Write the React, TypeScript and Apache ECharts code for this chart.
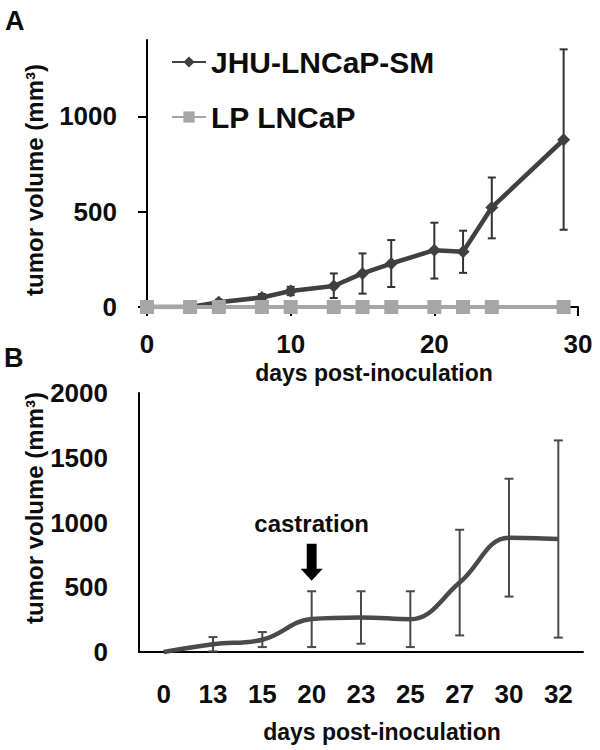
import React, { useEffect, useRef } from "react";
import * as echarts from "echarts";

// Panel A data
const daysA = [0, 3, 5, 8, 10, 13, 15, 17, 20, 22, 24, 29];
const jhuMean = [0, 0, 25, 50, 84, 110, 176, 228, 298, 290, 522, 877];
const jhuLow = [0, 0, 12, 32, 62, 47, 70, 105, 149, 179, 360, 405];
const jhuHigh = [0, 0, 38, 68, 106, 176, 281, 351, 442, 400, 679, 1351];
const lpMean = [0, 0, 0, 0, 0, 0, 0, 0, 0, 0, 0, 0];
const seriesNamesA = ["JHU-LNCaP-SM", "LP LNCaP"];
const yTicksA = [0, 500, 1000];

// Panel B data
const daysB = ["0", "13", "15", "20", "23", "25", "27", "30", "32"];
const meanB = [0, 60, 95, 255, 267, 253, 536, 883, 872];
const lowB = [0, 5, 38, 38, 64, 38, 128, 428, 111];
const highB = [0, 115, 154, 469, 469, 469, 944, 1338, 1634];
const castrationDay = "20";
const castrationLabelValue = 990;
const castrationArrowValue = 694;

const FONT = "'Liberation Sans', Arial, sans-serif";
const TXT = "#0d0d0d";

function errRender(capHalf: number, color: string, width: number) {
  return (params: any, api: any) => {
    const x = api.value(0);
    const lo = api.value(1);
    const hi = api.value(2);
    if (!(hi > lo)) return null;
    const a = api.coord([x, lo]);
    const b = api.coord([x, hi]);
    const st = { stroke: color, lineWidth: width };
    return {
      type: "group",
      children: [
        { type: "line", shape: { x1: a[0], y1: a[1], x2: b[0], y2: b[1] }, style: st },
        { type: "line", shape: { x1: a[0] - capHalf, y1: a[1], x2: a[0] + capHalf, y2: a[1] }, style: st },
        { type: "line", shape: { x1: b[0] - capHalf, y1: b[1], x2: b[0] + capHalf, y2: b[1] }, style: st },
      ],
    };
  };
}

export default function App() {
  const ref = useRef<HTMLDivElement>(null);
  useEffect(() => {
    if (!ref.current) return;
    const chart = echarts.init(ref.current, null, { renderer: "svg" });
    const plain = (v: any) => String(v);
    const axisLabelStyle = {
      fontFamily: FONT,
      fontWeight: "bold",
      fontSize: 26,
      lineHeight: 22,
      color: TXT,
      formatter: plain,
    };
    const arrowPath =
      "path://M2.75,0 L7.25,0 L7.25,6.8 L10,6.8 L5,10 L0,6.8 L2.75,6.8 Z";
    const option: any = {
      animation: false,
      backgroundColor: "#ffffff",
      grid: [
        { left: 147, right: 22, top: 40, bottom: 443 },
        { left: 139, right: 17, top: 393, bottom: 98 },
      ],
      legend: {
        data: seriesNamesA,
        orient: "vertical",
        left: 166,
        top: 42,
        itemGap: 25,
        itemWidth: 34,
        itemHeight: 14,
        textStyle: { fontFamily: FONT, fontWeight: "bold", fontSize: 30, color: TXT },
      },
      xAxis: [
        {
          type: "value",
          gridIndex: 0,
          min: 0,
          max: 30,
          interval: 10,
          splitLine: { show: false },
          axisLine: { onZero: false, lineStyle: { color: "#000", width: 2 } },
          axisTick: { show: true, length: 9, lineStyle: { color: "#000", width: 2 } },
          axisLabel: { ...axisLabelStyle, margin: 26 },
        },
        {
          type: "category",
          gridIndex: 1,
          data: daysB,
          boundaryGap: true,
          axisLine: { lineStyle: { color: "#000", width: 2 } },
          axisTick: { show: false },
          axisLabel: { ...axisLabelStyle, margin: 31, interval: 0 },
        },
      ],
      yAxis: [
        {
          type: "value",
          gridIndex: 0,
          min: 0,
          max: 1400,
          interval: 500,
          splitLine: { show: false },
          axisLine: { show: true, lineStyle: { color: "#000", width: 2 } },
          axisTick: { show: true, length: 9, customValues: yTicksA, lineStyle: { color: "#000", width: 2 } },
          axisLabel: { ...axisLabelStyle, margin: 30, customValues: yTicksA },
        },
        {
          type: "value",
          gridIndex: 1,
          min: 0,
          max: 2000,
          interval: 500,
          splitLine: { show: false },
          axisLine: { show: true, lineStyle: { color: "#000", width: 2 } },
          axisTick: { show: false },
          axisLabel: { ...axisLabelStyle, margin: 31 },
        },
      ],
      series: [
        {
          type: "custom",
          name: "jhuErr",
          xAxisIndex: 0,
          yAxisIndex: 0,
          renderItem: errRender(4, "#333333", 2),
          data: daysA.map((d, i) => [d, jhuLow[i], jhuHigh[i]]),
          z: 1,
        },
        {
          type: "line",
          name: seriesNamesA[0],
          xAxisIndex: 0,
          yAxisIndex: 0,
          data: daysA.map((d, i) => [d, jhuMean[i]]),
          symbol: "diamond",
          symbolSize: 13,
          lineStyle: { color: "#404040", width: 4.5 },
          itemStyle: { color: "#404040" },
          z: 2,
        },
        {
          type: "line",
          name: seriesNamesA[1],
          xAxisIndex: 0,
          yAxisIndex: 0,
          data: daysA.map((d, i) => [d, lpMean[i]]),
          symbol: "rect",
          symbolSize: 14,
          lineStyle: { color: "#a6a6a6", width: 4 },
          itemStyle: { color: "#a6a6a6" },
          z: 3,
        },
        {
          type: "custom",
          name: "bErr",
          xAxisIndex: 1,
          yAxisIndex: 1,
          renderItem: errRender(4.5, "#4a4a4a", 2),
          data: daysB.map((d, i) => [i, lowB[i], highB[i]]),
          z: 1,
        },
        {
          type: "line",
          name: "castrated",
          xAxisIndex: 1,
          yAxisIndex: 1,
          data: meanB,
          smooth: 0.4,
          showSymbol: false,
          symbol: "none",
          lineStyle: { color: "#4a4a4a", width: 4.5 },
          z: 2,
          markPoint: {
            silent: true,
            data: [
              {
                coord: [castrationDay, castrationArrowValue],
                symbol: arrowPath,
                symbolSize: [22, 37],
                itemStyle: { color: "#000" },
                label: { show: false },
              },
              {
                coord: [castrationDay, castrationLabelValue],
                symbol: "rect",
                symbolSize: 1,
                itemStyle: { color: "rgba(0,0,0,0)" },
                label: {
                  show: true,
                  position: "inside",
                  formatter: "castration",
                  fontFamily: FONT,
                  fontWeight: "bold",
                  fontSize: 24,
                  color: TXT,
                },
              },
            ],
          },
        },
      ],
      graphic: [
        { type: "text", left: 5, top: 7, style: { text: "A", font: `bold 27px ${FONT}`, fill: TXT } },
        { type: "text", left: 4, top: 344, style: { text: "B", font: `bold 27px ${FONT}`, fill: TXT } },
        {
          type: "text",
          x: 34,
          y: 180,
          rotation: Math.PI / 2,
          style: { text: "tumor volume (mm³)", font: `bold 24px ${FONT}`, fill: TXT, align: "center", verticalAlign: "middle" },
        },
        {
          type: "text",
          x: 34,
          y: 508,
          rotation: Math.PI / 2,
          style: { text: "tumor volume (mm³)", font: `bold 24px ${FONT}`, fill: TXT, align: "center", verticalAlign: "middle" },
        },
        {
          type: "text",
          x: 374,
          y: 373,
          style: { text: "days post-inoculation", font: `bold 23px ${FONT}`, fill: TXT, align: "center", verticalAlign: "middle", lineHeight: 22 },
        },
        {
          type: "text",
          x: 382,
          y: 732,
          style: { text: "days post-inoculation", font: `bold 23px ${FONT}`, fill: TXT, align: "center", verticalAlign: "middle", lineHeight: 22 },
        },
      ],
    };
    chart.setOption(option);
    return () => chart.dispose();
  }, []);
  return <div ref={ref} style={{ width: 600, height: 750, position: "absolute", left: 0, top: 0 }} />;
}
